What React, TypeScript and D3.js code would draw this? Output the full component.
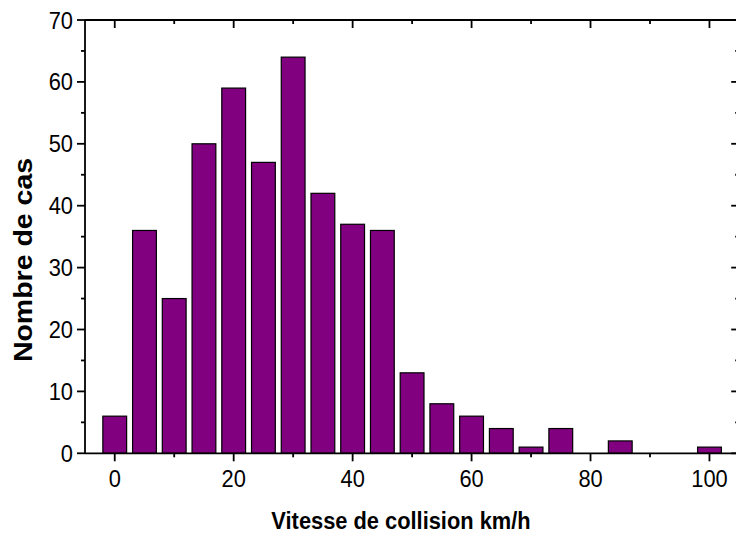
import React from "react";
import * as d3 from "d3";

const speeds = [0, 5, 10, 15, 20, 25, 30, 35, 40, 45, 50, 55, 60, 65, 70, 75, 80, 85, 90, 95, 100];
const counts = [6, 36, 25, 50, 59, 47, 64, 42, 37, 36, 13, 8, 6, 4, 1, 4, 0, 2, 0, 0, 1];
const xMajor = [0, 20, 40, 60, 80, 100];
const xMinor = [10, 30, 50, 70, 90];
const yMajor = [0, 10, 20, 30, 40, 50, 60, 70];
const yMinor = [5, 15, 25, 35, 45, 55, 65];
const xTitle = "Vitesse de collision km/h";
const yTitle = "Nombre de cas";

const W = 736;
const H = 535;
const SX = 0.91;
const FONT = "Liberation Sans, Arial, Helvetica, sans-serif";

export default function App() {
  const x = d3.scaleLinear().domain([-5, 105]).range([85, 739.2]);
  const y = d3.scaleLinear().domain([0, 70]).range([453.3, 20]);
  const barW = x(4) - x(0);
  const x0 = x.range()[0];
  const x1 = x.range()[1];
  const y0 = y.range()[0];
  const y1 = y.range()[1];
  const sw = 1.8;
  const maj = 8;
  const min = 4;

  return (
    <svg
      width={W}
      height={H}
      style={{ position: "absolute", left: 0, top: 0, background: "#fff" }}
    >
      <rect x={0} y={0} width={W} height={H} fill="#fff" />
      {speeds.map((s, i) =>
        counts[i] > 0 ? (
          <rect
            key={s}
            x={x(s) - barW / 2}
            y={y(counts[i])}
            width={barW}
            height={y(0) - y(counts[i])}
            fill="#800080"
            stroke="#000"
            strokeWidth={1.2}
          />
        ) : null
      )}
      {/* frame */}
      <line x1={x0} x2={x0} y1={y1} y2={y0} stroke="#000" strokeWidth={sw} />
      <line x1={x1} x2={x1} y1={y1} y2={y0} stroke="#000" strokeWidth={sw} />
      <line x1={x0} x2={x1} y1={y0} y2={y0} stroke="#000" strokeWidth={sw} />
      <line x1={x0} x2={x1} y1={y1} y2={y1} stroke="#000" strokeWidth={sw} />
      {/* x ticks */}
      {xMajor.map((v) => (
        <g key={"xm" + v}>
          <line x1={x(v)} x2={x(v)} y1={y0} y2={y0 + maj} stroke="#000" strokeWidth={sw} />
          <line x1={x(v)} x2={x(v)} y1={y1} y2={y1 + maj} stroke="#000" strokeWidth={sw} />
          <text
            transform={`translate(${x(v)},${y0 + 33.5}) scale(${SX},1)`}
            textAnchor="middle"
            fontFamily={FONT}
            fontSize={24}
            fill="#000"
          >
            {v}
          </text>
        </g>
      ))}
      {xMinor.map((v) => (
        <g key={"xn" + v}>
          <line x1={x(v)} x2={x(v)} y1={y0} y2={y0 + min} stroke="#000" strokeWidth={sw} />
          <line x1={x(v)} x2={x(v)} y1={y1} y2={y1 + min} stroke="#000" strokeWidth={sw} />
        </g>
      ))}
      {/* y ticks */}
      {yMajor.map((v) => (
        <g key={"ym" + v}>
          <line x1={x0} x2={x0 - maj} y1={y(v)} y2={y(v)} stroke="#000" strokeWidth={sw} />
          <line x1={x1} x2={x1 - maj} y1={y(v)} y2={y(v)} stroke="#000" strokeWidth={sw} />
          <text
            transform={`translate(${x0 - 12},${y(v) + 8.5}) scale(${SX},1)`}
            textAnchor="end"
            fontFamily={FONT}
            fontSize={24}
            fill="#000"
          >
            {v}
          </text>
        </g>
      ))}
      {yMinor.map((v) => (
        <g key={"yn" + v}>
          <line x1={x0} x2={x0 - min} y1={y(v)} y2={y(v)} stroke="#000" strokeWidth={sw} />
          <line x1={x1} x2={x1 - min} y1={y(v)} y2={y(v)} stroke="#000" strokeWidth={sw} />
        </g>
      ))}
      {/* titles */}
      <text
        transform={`translate(401,529) scale(${SX},1)`}
        textAnchor="middle"
        fontFamily={FONT}
        fontWeight="bold"
        fontSize={24}
        fill="#000"
      >
        {xTitle}
      </text>
      <text
        transform={`translate(32,260) scale(${SX},1) rotate(-90)`}
        textAnchor="middle"
        fontFamily={FONT}
        fontWeight="bold"
        fontSize={28.5}
        fill="#000"
      >
        {yTitle}
      </text>
    </svg>
  );
}
